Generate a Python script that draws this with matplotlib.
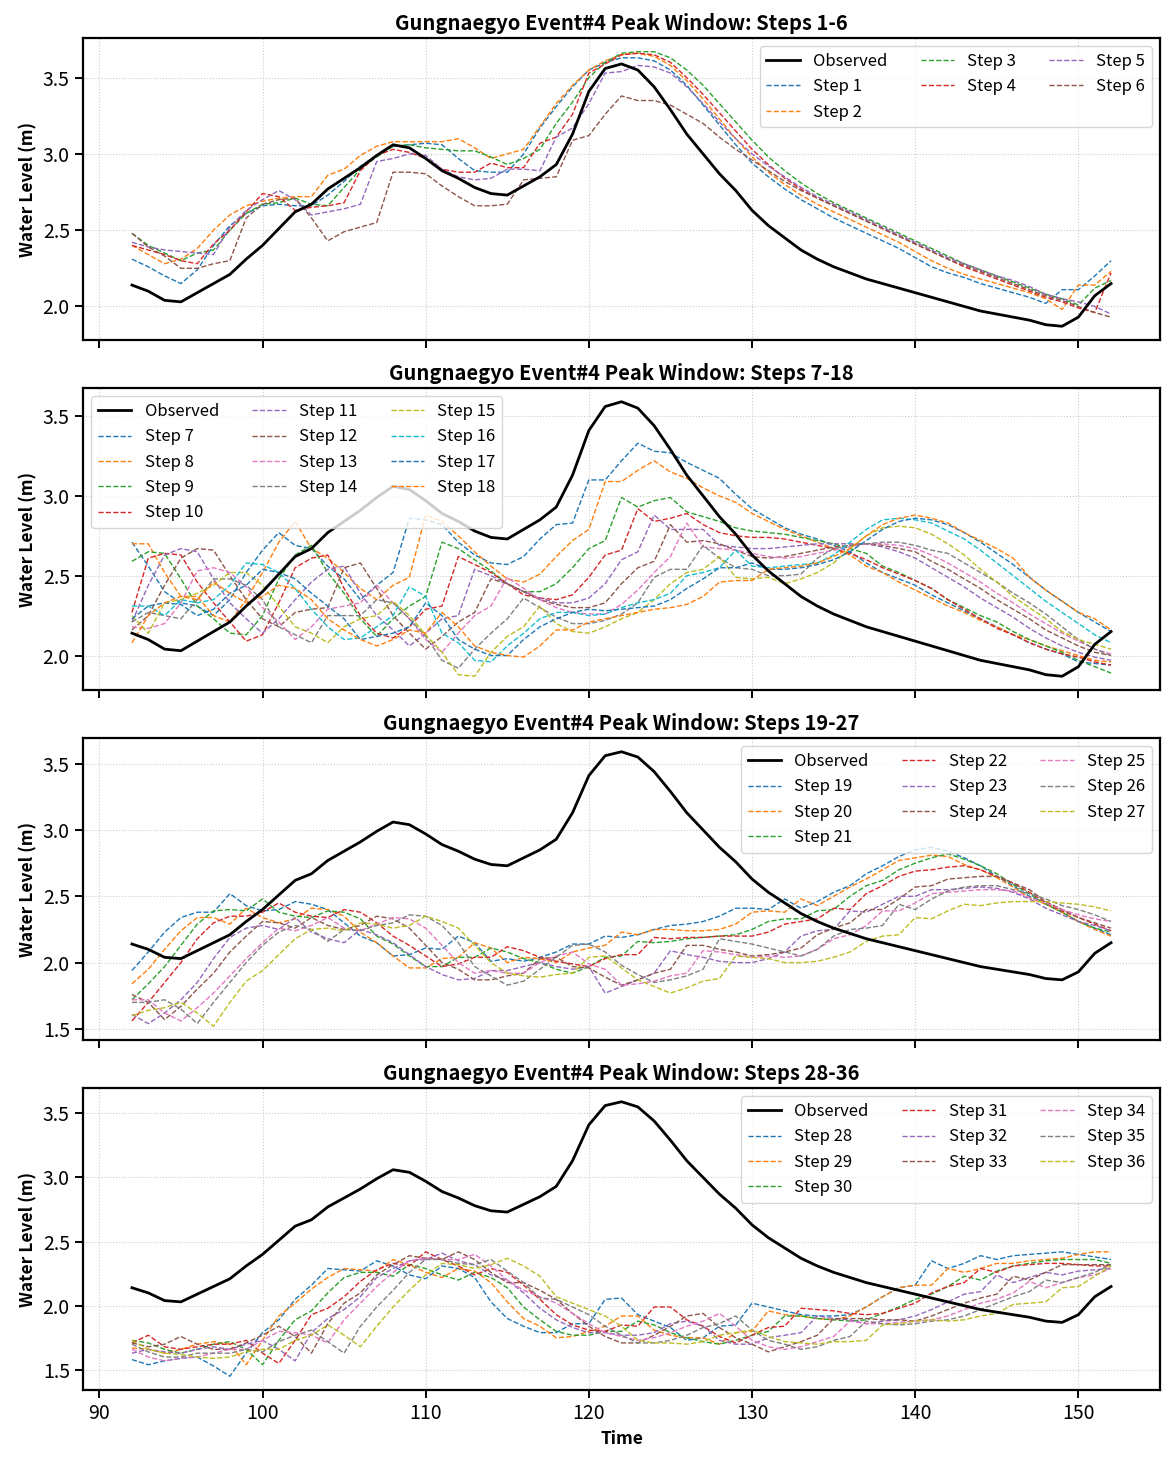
"""Gungnaegyo Event#4 peak window: multi-step forecasts vs observed."""

import matplotlib
matplotlib.use("Agg")
import matplotlib.pyplot as plt
import matplotlib.ticker as mticker

plt.rcParams.update({
    "font.family": ["Noto Sans CJK KR", "DejaVu Sans"],
    "font.size": 12,
    "axes.titlesize": 14.5,
    "axes.titleweight": "bold",
    "axes.labelsize": 12.5,
    "axes.labelweight": "bold",
    "axes.linewidth": 1.6,
    "xtick.labelsize": 14,
    "ytick.labelsize": 14,
    "xtick.major.width": 1.4,
    "ytick.major.width": 1.4,
    "xtick.major.size": 6,
    "ytick.major.size": 6,
    "legend.fontsize": 12,
})

time = list(range(92, 153))

observed = [
    2.14, 2.10, 2.04, 2.03, 2.09, 2.15, 2.21, 2.31, 2.40, 2.51,
    2.62, 2.67, 2.77, 2.84, 2.91, 2.99, 3.06, 3.04, 2.97, 2.89,
    2.84, 2.78, 2.74, 2.73, 2.79, 2.85, 2.93, 3.13, 3.41, 3.56,
    3.59, 3.55, 3.44, 3.29, 3.13, 3.00, 2.87, 2.76, 2.63, 2.53,
    2.45, 2.37, 2.31, 2.26, 2.22, 2.18, 2.15, 2.12, 2.09, 2.06,
    2.03, 2.00, 1.97, 1.95, 1.93, 1.91, 1.88, 1.87, 1.93, 2.07,
    2.15,
]

# panel 1: steps 1-6
step_1 = [
    2.31, 2.26, 2.20, 2.15, 2.24, 2.40, 2.53, 2.61, 2.66, 2.67,
    2.66, 2.66, 2.73, 2.82, 2.92, 2.99, 3.05, 3.06, 3.07, 3.06,
    2.97, 2.89, 2.88, 2.88, 3.00, 3.17, 3.31, 3.44, 3.55, 3.60,
    3.63, 3.63, 3.61, 3.55, 3.45, 3.32, 3.19, 3.06, 2.94, 2.85,
    2.77, 2.70, 2.64, 2.58, 2.53, 2.48, 2.43, 2.38, 2.32, 2.26,
    2.22, 2.19, 2.15, 2.12, 2.09, 2.06, 2.02, 2.11, 2.11, 2.20,
    2.30,
]
step_2 = [
    2.40, 2.34, 2.28, 2.31, 2.38, 2.50, 2.60, 2.66, 2.69, 2.71,
    2.72, 2.72, 2.86, 2.90, 2.99, 3.05, 3.08, 3.08, 3.08, 3.08,
    3.10, 3.04, 2.97, 3.00, 3.03, 3.18, 3.33, 3.45, 3.55, 3.61,
    3.65, 3.66, 3.64, 3.58, 3.48, 3.36, 3.23, 3.10, 2.98, 2.88,
    2.80, 2.73, 2.67, 2.62, 2.57, 2.52, 2.47, 2.42, 2.36, 2.30,
    2.25, 2.21, 2.18, 2.15, 2.12, 2.09, 2.05, 1.98, 2.14, 2.14,
    2.23,
]
step_3 = [
    2.48, 2.40, 2.35, 2.30, 2.35, 2.37, 2.50, 2.61, 2.67, 2.68,
    2.71, 2.67, 2.66, 2.78, 2.90, 2.98, 3.05, 3.06, 3.04, 3.03,
    3.02, 3.02, 2.98, 2.93, 2.97, 3.03, 3.20, 3.34, 3.50, 3.60,
    3.66, 3.67, 3.67, 3.63, 3.55, 3.45, 3.33, 3.21, 3.09, 2.98,
    2.89, 2.81, 2.74, 2.68, 2.63, 2.58, 2.53, 2.48, 2.43, 2.38,
    2.33, 2.28, 2.24, 2.20, 2.16, 2.12, 2.08, 2.05, 2.01, 2.12,
    2.17,
]
step_4 = [
    2.40, 2.37, 2.34, 2.30, 2.28, 2.41, 2.50, 2.62, 2.74, 2.72,
    2.63, 2.65, 2.66, 2.68, 2.89, 2.99, 3.03, 3.01, 2.97, 2.90,
    2.88, 2.88, 2.94, 2.91, 2.91, 3.07, 3.11, 3.26, 3.53, 3.59,
    3.65, 3.66, 3.65, 3.60, 3.50, 3.39, 3.27, 3.15, 3.03, 2.93,
    2.84, 2.77, 2.71, 2.66, 2.61, 2.56, 2.51, 2.46, 2.41, 2.36,
    2.31, 2.26, 2.22, 2.18, 2.14, 2.10, 2.06, 2.03, 1.99, 1.96,
    2.22,
]
step_5 = [
    2.42, 2.39, 2.37, 2.36, 2.35, 2.34, 2.52, 2.63, 2.70, 2.76,
    2.70, 2.60, 2.62, 2.64, 2.67, 2.95, 2.97, 3.00, 2.99, 2.90,
    2.85, 2.83, 2.84, 2.90, 2.90, 2.89, 3.11, 3.17, 3.33, 3.53,
    3.54, 3.58, 3.57, 3.53, 3.44, 3.33, 3.21, 3.10, 3.00, 2.92,
    2.85, 2.78, 2.72, 2.67, 2.62, 2.57, 2.52, 2.47, 2.42, 2.37,
    2.32, 2.28, 2.24, 2.20, 2.17, 2.13, 2.08, 2.05, 2.03, 2.00,
    1.95,
]
step_6 = [
    2.48, 2.39, 2.33, 2.25, 2.25, 2.28, 2.30, 2.58, 2.67, 2.70,
    2.71, 2.58, 2.43, 2.49, 2.52, 2.55, 2.88, 2.88, 2.87, 2.79,
    2.72, 2.66, 2.66, 2.67, 2.83, 2.84, 2.85, 3.09, 3.12, 3.26,
    3.38, 3.35, 3.35, 3.32, 3.26, 3.20, 3.11, 3.03, 2.96, 2.89,
    2.82, 2.76, 2.71, 2.66, 2.61, 2.56, 2.51, 2.46, 2.41, 2.36,
    2.31, 2.27, 2.23, 2.19, 2.15, 2.11, 2.07, 2.04, 2.00, 1.96,
    1.93,
]

# panel 2: steps 7-18
step_7 = [
    2.71, 2.56, 2.40, 2.33, 2.31, 2.25, 2.35, 2.52, 2.66, 2.77,
    2.69, 2.67, 2.56, 2.48, 2.35, 2.44, 2.52, 2.86, 2.85, 2.82,
    2.71, 2.63, 2.58, 2.57, 2.62, 2.73, 2.82, 2.83, 3.10, 3.10,
    3.22, 3.33, 3.28, 3.27, 3.21, 3.16, 3.11, 3.01, 2.92, 2.86,
    2.80, 2.76, 2.73, 2.69, 2.65, 2.58, 2.52, 2.48, 2.44, 2.38,
    2.33, 2.28, 2.23, 2.18, 2.13, 2.08, 2.04, 2.01, 1.96, 1.95,
    1.94,
]
step_8 = [
    2.70, 2.70, 2.52, 2.37, 2.37, 2.25, 2.21, 2.35, 2.52, 2.71,
    2.84, 2.67, 2.61, 2.52, 2.42, 2.35, 2.44, 2.49, 2.88, 2.84,
    2.75, 2.65, 2.56, 2.48, 2.46, 2.51, 2.62, 2.72, 2.79, 3.09,
    3.09, 3.16, 3.22, 3.15, 3.11, 3.05, 3.00, 2.96, 2.89, 2.84,
    2.79, 2.75, 2.71, 2.67, 2.63, 2.56, 2.52, 2.46, 2.41, 2.36,
    2.31, 2.27, 2.22, 2.18, 2.13, 2.10, 2.06, 2.03, 2.00, 1.97,
    1.96,
]
step_9 = [
    2.59, 2.65, 2.64, 2.48, 2.31, 2.23, 2.14, 2.13, 2.25, 2.48,
    2.63, 2.69, 2.52, 2.39, 2.23, 2.12, 2.23, 2.31, 2.37, 2.71,
    2.67, 2.60, 2.53, 2.45, 2.40, 2.40, 2.45, 2.55, 2.67, 2.72,
    2.99, 2.93, 2.97, 2.99, 2.90, 2.87, 2.84, 2.80, 2.78, 2.77,
    2.76, 2.74, 2.72, 2.70, 2.67, 2.64, 2.56, 2.52, 2.47, 2.42,
    2.35, 2.30, 2.25, 2.21, 2.15, 2.10, 2.06, 2.02, 1.97, 1.93,
    1.89,
]
step_10 = [
    2.27, 2.61, 2.64, 2.63, 2.46, 2.33, 2.21, 2.09, 2.13, 2.33,
    2.55, 2.61, 2.63, 2.42, 2.25, 2.14, 2.11, 2.18, 2.29, 2.31,
    2.62, 2.57, 2.52, 2.45, 2.38, 2.36, 2.35, 2.38, 2.49, 2.63,
    2.66, 2.92, 2.84, 2.86, 2.89, 2.82, 2.77, 2.75, 2.74, 2.74,
    2.73, 2.71, 2.69, 2.67, 2.64, 2.60, 2.55, 2.51, 2.47, 2.42,
    2.35, 2.29, 2.23, 2.17, 2.13, 2.08, 2.04, 2.01, 1.99, 1.96,
    1.94,
]
step_11 = [
    2.21, 2.44, 2.63, 2.67, 2.65, 2.48, 2.33, 2.23, 2.14, 2.23,
    2.35, 2.46, 2.54, 2.56, 2.39, 2.25, 2.16, 2.06, 2.14, 2.23,
    2.25, 2.54, 2.50, 2.45, 2.40, 2.36, 2.33, 2.33, 2.36, 2.45,
    2.60, 2.65, 2.88, 2.79, 2.79, 2.79, 2.69, 2.68, 2.67, 2.67,
    2.68, 2.69, 2.70, 2.70, 2.70, 2.70, 2.68, 2.65, 2.61, 2.55,
    2.49, 2.43, 2.36, 2.30, 2.24, 2.17, 2.11, 2.06, 2.02, 1.99,
    1.97,
]
step_12 = [
    2.16, 2.25, 2.44, 2.61, 2.67, 2.66, 2.50, 2.35, 2.23, 2.18,
    2.27, 2.29, 2.30, 2.55, 2.58, 2.42, 2.25, 2.14, 2.04, 2.12,
    2.21, 2.27, 2.48, 2.45, 2.40, 2.35, 2.32, 2.30, 2.30, 2.33,
    2.45, 2.55, 2.59, 2.82, 2.71, 2.72, 2.70, 2.66, 2.62, 2.61,
    2.62, 2.64, 2.66, 2.68, 2.69, 2.70, 2.69, 2.67, 2.65, 2.59,
    2.54, 2.48, 2.42, 2.35, 2.29, 2.23, 2.16, 2.11, 2.06, 2.02,
    2.00,
]
step_13 = [
    2.18, 2.17, 2.20, 2.33, 2.53, 2.55, 2.52, 2.43, 2.30, 2.21,
    2.10, 2.18, 2.29, 2.31, 2.33, 2.44, 2.33, 2.23, 2.10, 2.02,
    2.14, 2.25, 2.31, 2.49, 2.42, 2.35, 2.30, 2.27, 2.26, 2.26,
    2.32, 2.41, 2.52, 2.62, 2.83, 2.68, 2.67, 2.66, 2.64, 2.62,
    2.61, 2.62, 2.64, 2.66, 2.68, 2.70, 2.70, 2.69, 2.67, 2.63,
    2.58, 2.52, 2.46, 2.39, 2.33, 2.26, 2.20, 2.14, 2.09, 2.04,
    2.01,
]
step_14 = [
    2.21, 2.27, 2.25, 2.23, 2.35, 2.48, 2.48, 2.44, 2.35, 2.18,
    2.13, 2.08, 2.25, 2.25, 2.25, 2.35, 2.33, 2.23, 2.12, 1.97,
    1.92, 2.04, 2.14, 2.23, 2.36, 2.30, 2.24, 2.20, 2.20, 2.22,
    2.26, 2.33, 2.49, 2.54, 2.54, 2.69, 2.61, 2.55, 2.54, 2.50,
    2.50, 2.51, 2.61, 2.67, 2.69, 2.70, 2.71, 2.71, 2.69, 2.66,
    2.64, 2.58, 2.52, 2.46, 2.39, 2.33, 2.26, 2.18, 2.10, 2.04,
    2.00,
]
step_15 = [
    2.25, 2.14, 2.33, 2.35, 2.39, 2.44, 2.52, 2.52, 2.44, 2.31,
    2.18, 2.14, 2.08, 2.18, 2.23, 2.25, 2.34, 2.25, 2.13, 2.02,
    1.88, 1.87, 2.02, 2.12, 2.18, 2.31, 2.20, 2.15, 2.14, 2.18,
    2.23, 2.27, 2.35, 2.45, 2.52, 2.54, 2.62, 2.49, 2.48, 2.49,
    2.45, 2.48, 2.52, 2.58, 2.67, 2.75, 2.80, 2.81, 2.80, 2.76,
    2.70, 2.63, 2.54, 2.46, 2.37, 2.30, 2.23, 2.15, 2.10, 2.07,
    2.04,
]
step_16 = [
    2.31, 2.31, 2.25, 2.35, 2.33, 2.35, 2.44, 2.58, 2.57, 2.52,
    2.42, 2.29, 2.18, 2.10, 2.11, 2.18, 2.25, 2.43, 2.37, 2.14,
    2.08, 1.97, 1.96, 2.06, 2.14, 2.23, 2.27, 2.27, 2.25, 2.26,
    2.30, 2.33, 2.35, 2.39, 2.50, 2.52, 2.55, 2.66, 2.56, 2.55,
    2.56, 2.57, 2.58, 2.63, 2.71, 2.79, 2.85, 2.86, 2.85, 2.83,
    2.78, 2.73, 2.66, 2.58, 2.50, 2.42, 2.34, 2.27, 2.20, 2.13,
    2.08,
]
step_17 = [
    2.23, 2.31, 2.33, 2.32, 2.25, 2.29, 2.39, 2.44, 2.54, 2.52,
    2.48, 2.39, 2.31, 2.23, 2.10, 2.12, 2.14, 2.18, 2.33, 2.25,
    2.10, 2.04, 2.00, 2.00, 2.10, 2.18, 2.23, 2.27, 2.29, 2.28,
    2.29, 2.30, 2.31, 2.35, 2.42, 2.48, 2.55, 2.55, 2.58, 2.54,
    2.54, 2.55, 2.57, 2.60, 2.65, 2.72, 2.79, 2.84, 2.86, 2.85,
    2.82, 2.77, 2.71, 2.64, 2.57, 2.49, 2.41, 2.34, 2.27, 2.21,
    2.15,
]
step_18 = [
    2.08, 2.25, 2.33, 2.37, 2.35, 2.46, 2.39, 2.33, 2.37, 2.44,
    2.42, 2.35, 2.23, 2.16, 2.10, 2.06, 2.10, 2.16, 2.14, 2.27,
    2.18, 2.06, 2.02, 2.00, 1.99, 2.06, 2.16, 2.16, 2.21, 2.23,
    2.25, 2.27, 2.29, 2.30, 2.32, 2.37, 2.46, 2.47, 2.47, 2.54,
    2.55, 2.56, 2.58, 2.62, 2.67, 2.75, 2.82, 2.86, 2.88, 2.86,
    2.83, 2.77, 2.72, 2.67, 2.61, 2.49, 2.41, 2.34, 2.27, 2.23,
    2.16,
]

# panel 3: steps 19-27
step_19 = [
    1.94, 2.08, 2.23, 2.34, 2.38, 2.38, 2.52, 2.43, 2.39, 2.40,
    2.46, 2.44, 2.40, 2.30, 2.20, 2.15, 2.05, 2.06, 2.11, 2.10,
    2.20, 2.15, 2.01, 2.03, 2.01, 2.04, 2.08, 2.14, 2.14, 2.20,
    2.19, 2.21, 2.25, 2.28, 2.29, 2.31, 2.35, 2.41, 2.41, 2.40,
    2.48, 2.41, 2.46, 2.53, 2.58, 2.67, 2.73, 2.80, 2.85, 2.87,
    2.84, 2.79, 2.73, 2.65, 2.58, 2.50, 2.45, 2.38, 2.31, 2.26,
    2.21,
]
step_20 = [
    1.84, 1.95, 2.10, 2.24, 2.34, 2.34, 2.29, 2.41, 2.34, 2.30,
    2.33, 2.41, 2.40, 2.35, 2.23, 2.15, 2.05, 1.96, 1.96, 2.03,
    2.04, 2.15, 2.11, 2.00, 2.04, 2.03, 2.00, 2.08, 2.11, 2.13,
    2.23, 2.21, 2.25, 2.25, 2.24, 2.24, 2.25, 2.29, 2.38, 2.39,
    2.38, 2.48, 2.43, 2.50, 2.57, 2.63, 2.70, 2.77, 2.79, 2.81,
    2.80, 2.74, 2.70, 2.64, 2.57, 2.49, 2.44, 2.38, 2.31, 2.25,
    2.20,
]
step_21 = [
    1.72, 1.84, 1.97, 2.13, 2.29, 2.39, 2.40, 2.39, 2.48, 2.38,
    2.35, 2.34, 2.39, 2.38, 2.33, 2.20, 2.14, 2.05, 1.97, 1.97,
    2.04, 2.04, 2.11, 2.08, 2.03, 2.00, 1.95, 1.92, 1.97, 2.04,
    2.05, 2.16, 2.15, 2.16, 2.18, 2.19, 2.20, 2.21, 2.25, 2.31,
    2.33, 2.33, 2.39, 2.40, 2.50, 2.58, 2.62, 2.70, 2.75, 2.79,
    2.82, 2.78, 2.73, 2.67, 2.59, 2.52, 2.44, 2.38, 2.31, 2.26,
    2.23,
]
step_22 = [
    1.56, 1.70, 1.85, 2.00, 2.18, 2.30, 2.35, 2.35, 2.38, 2.45,
    2.38, 2.35, 2.34, 2.40, 2.38, 2.30, 2.20, 2.13, 2.05, 1.97,
    1.99, 2.04, 2.04, 2.12, 2.09, 2.04, 2.01, 1.99, 1.97, 2.03,
    2.06, 2.06, 2.19, 2.18, 2.19, 2.19, 2.20, 2.20, 2.20, 2.23,
    2.29, 2.31, 2.33, 2.41, 2.40, 2.52, 2.58, 2.65, 2.69, 2.70,
    2.72, 2.73, 2.70, 2.65, 2.60, 2.53, 2.45, 2.39, 2.34, 2.29,
    2.24,
]
step_23 = [
    1.61, 1.54, 1.62, 1.72, 1.85, 2.03, 2.19, 2.26, 2.28, 2.25,
    2.34, 2.23, 2.18, 2.15, 2.25, 2.21, 2.15, 2.06, 1.97, 1.91,
    1.87, 1.88, 1.94, 1.94, 1.97, 2.00, 1.97, 1.95, 1.97, 1.77,
    1.82, 1.87, 1.92, 2.09, 2.06, 2.04, 2.01, 2.00, 2.00, 2.03,
    2.08, 2.20, 2.24, 2.25, 2.39, 2.38, 2.44, 2.50, 2.50, 2.55,
    2.55, 2.56, 2.57, 2.56, 2.53, 2.48, 2.41, 2.36, 2.31, 2.28,
    2.24,
]
step_24 = [
    1.76, 1.70, 1.57, 1.67, 1.80, 1.92, 2.08, 2.20, 2.31, 2.30,
    2.26, 2.34, 2.28, 2.25, 2.28, 2.35, 2.33, 2.26, 2.13, 2.00,
    1.95, 1.87, 1.87, 1.90, 1.92, 2.03, 2.04, 1.97, 1.96, 1.89,
    1.83, 1.87, 1.92, 1.95, 2.13, 2.13, 2.10, 2.08, 2.05, 2.06,
    2.08, 2.11, 2.21, 2.26, 2.30, 2.40, 2.40, 2.48, 2.57, 2.58,
    2.63, 2.64, 2.65, 2.65, 2.60, 2.55, 2.46, 2.40, 2.34, 2.30,
    2.26,
]
step_25 = [
    1.72, 1.72, 1.62, 1.56, 1.66, 1.77, 1.90, 2.03, 2.15, 2.26,
    2.24, 2.28, 2.34, 2.26, 2.24, 2.29, 2.34, 2.33, 2.26, 2.13,
    2.00, 1.92, 1.94, 1.92, 1.92, 2.00, 2.05, 2.08, 1.99, 1.95,
    1.83, 1.84, 1.86, 1.90, 1.92, 2.09, 2.08, 2.06, 2.04, 2.05,
    2.04, 2.05, 2.10, 2.18, 2.21, 2.28, 2.39, 2.39, 2.45, 2.52,
    2.53, 2.54, 2.55, 2.55, 2.54, 2.49, 2.45, 2.40, 2.36, 2.33,
    2.31,
]
step_26 = [
    1.70, 1.70, 1.72, 1.65, 1.54, 1.70, 1.85, 2.00, 2.13, 2.23,
    2.28, 2.25, 2.16, 2.25, 2.24, 2.28, 2.30, 2.36, 2.35, 2.28,
    2.15, 1.97, 1.90, 1.83, 1.86, 1.95, 2.04, 2.13, 2.14, 2.08,
    1.98, 1.91, 1.85, 1.87, 1.90, 1.95, 2.18, 2.16, 2.14, 2.11,
    2.08, 2.05, 2.10, 2.20, 2.25, 2.26, 2.28, 2.44, 2.40, 2.48,
    2.54, 2.57, 2.58, 2.58, 2.55, 2.52, 2.48, 2.43, 2.40, 2.36,
    2.31,
]
step_27 = [
    1.60, 1.64, 1.66, 1.70, 1.62, 1.52, 1.70, 1.86, 1.94, 2.06,
    2.18, 2.25, 2.26, 2.24, 2.30, 2.29, 2.26, 2.28, 2.35, 2.31,
    2.26, 2.13, 2.00, 1.92, 1.90, 1.89, 1.91, 1.92, 2.04, 2.05,
    1.96, 1.87, 1.82, 1.77, 1.81, 1.86, 1.88, 2.05, 2.04, 2.03,
    2.00, 2.00, 2.01, 2.04, 2.08, 2.16, 2.20, 2.21, 2.34, 2.33,
    2.39, 2.44, 2.43, 2.45, 2.46, 2.46, 2.46, 2.45, 2.44, 2.42,
    2.39,
]

# panel 4: steps 28-36
step_28 = [
    1.58, 1.54, 1.57, 1.59, 1.60, 1.53, 1.45, 1.63, 1.79, 1.89,
    2.05, 2.16, 2.29, 2.28, 2.27, 2.35, 2.31, 2.24, 2.21, 2.31,
    2.29, 2.22, 2.03, 1.90, 1.84, 1.79, 1.79, 1.86, 1.86, 2.05,
    2.06, 1.93, 1.88, 1.83, 1.73, 1.75, 1.84, 1.85, 2.02, 1.99,
    1.96, 1.93, 1.92, 1.92, 1.93, 1.99, 2.07, 2.14, 2.16, 2.35,
    2.29, 2.33, 2.39, 2.36, 2.39, 2.40, 2.41, 2.42, 2.40, 2.38,
    2.36,
]
step_29 = [
    1.67, 1.66, 1.63, 1.66, 1.70, 1.72, 1.70, 1.54, 1.73, 1.92,
    2.02, 2.13, 2.22, 2.29, 2.28, 2.27, 2.36, 2.32, 2.26, 2.22,
    2.29, 2.27, 2.18, 2.03, 1.90, 1.84, 1.75, 1.76, 1.80, 1.84,
    1.92, 1.92, 1.81, 1.77, 1.75, 1.75, 1.70, 1.79, 1.80, 1.96,
    1.93, 1.92, 1.90, 1.89, 1.92, 1.99, 2.07, 2.14, 2.16, 2.16,
    2.29, 2.26, 2.29, 2.33, 2.33, 2.35, 2.36, 2.37, 2.40, 2.42,
    2.42,
]
step_30 = [
    1.73, 1.71, 1.66, 1.63, 1.66, 1.70, 1.72, 1.66, 1.54, 1.73,
    1.89, 1.96, 2.10, 2.22, 2.26, 2.26, 2.23, 2.32, 2.29, 2.24,
    2.20, 2.26, 2.22, 2.14, 1.99, 1.89, 1.80, 1.77, 1.77, 1.80,
    1.80, 1.88, 1.85, 1.79, 1.75, 1.72, 1.70, 1.73, 1.77, 1.80,
    1.92, 1.92, 1.90, 1.89, 1.88, 1.89, 1.94, 1.99, 2.05, 2.09,
    2.15, 2.23, 2.20, 2.27, 2.31, 2.33, 2.35, 2.36, 2.36, 2.36,
    2.33,
]
step_31 = [
    1.71, 1.77, 1.68, 1.66, 1.68, 1.70, 1.70, 1.73, 1.63, 1.55,
    1.73, 1.93, 1.98, 2.07, 2.19, 2.28, 2.33, 2.31, 2.42, 2.36,
    2.31, 2.24, 2.29, 2.26, 2.16, 2.05, 1.93, 1.85, 1.81, 1.80,
    1.85, 1.84, 1.99, 1.99, 1.89, 1.84, 1.76, 1.71, 1.77, 1.83,
    1.84, 1.98, 1.97, 1.96, 1.94, 1.93, 1.94, 1.98, 2.02, 2.10,
    2.15, 2.18, 2.29, 2.26, 2.31, 2.32, 2.33, 2.33, 2.32, 2.31,
    2.31,
]
step_32 = [
    1.63, 1.66, 1.64, 1.63, 1.66, 1.68, 1.66, 1.70, 1.73, 1.66,
    1.57, 1.79, 1.90, 1.97, 2.07, 2.22, 2.29, 2.35, 2.36, 2.41,
    2.35, 2.32, 2.24, 2.20, 2.10, 1.98, 1.89, 1.83, 1.79, 1.79,
    1.77, 1.77, 1.79, 1.86, 1.88, 1.84, 1.73, 1.70, 1.70, 1.75,
    1.77, 1.79, 1.92, 1.90, 1.89, 1.86, 1.88, 1.89, 1.92, 1.97,
    2.03, 2.09, 2.11, 2.24, 2.18, 2.22, 2.26, 2.24, 2.27, 2.28,
    2.29,
]
step_33 = [
    1.71, 1.68, 1.70, 1.76, 1.70, 1.66, 1.66, 1.71, 1.77, 1.84,
    1.76, 1.63, 1.86, 2.02, 2.10, 2.24, 2.32, 2.39, 2.37, 2.36,
    2.42, 2.36, 2.26, 2.18, 2.18, 2.12, 2.05, 1.94, 1.84, 1.76,
    1.71, 1.71, 1.77, 1.84, 1.92, 1.94, 1.83, 1.75, 1.70, 1.64,
    1.68, 1.72, 1.77, 1.90, 1.90, 1.90, 1.89, 1.89, 1.88, 1.92,
    1.97, 2.02, 2.06, 2.09, 2.23, 2.20, 2.26, 2.32, 2.32, 2.32,
    2.32,
]
step_34 = [
    1.66, 1.60, 1.57, 1.59, 1.60, 1.63, 1.66, 1.66, 1.73, 1.80,
    1.79, 1.77, 1.71, 1.89, 2.02, 2.15, 2.26, 2.35, 2.37, 2.36,
    2.36, 2.40, 2.31, 2.20, 2.12, 2.07, 2.02, 1.94, 1.86, 1.79,
    1.76, 1.73, 1.75, 1.79, 1.84, 1.88, 1.94, 1.84, 1.73, 1.68,
    1.66, 1.68, 1.72, 1.76, 1.88, 1.86, 1.86, 1.87, 1.88, 1.89,
    1.92, 1.97, 2.02, 2.05, 2.10, 2.19, 2.14, 2.18, 2.22, 2.24,
    2.29,
]
step_35 = [
    1.70, 1.64, 1.60, 1.60, 1.63, 1.63, 1.63, 1.66, 1.64, 1.72,
    1.77, 1.81, 1.72, 1.63, 1.84, 1.99, 2.12, 2.26, 2.36, 2.36,
    2.33, 2.32, 2.36, 2.27, 2.18, 2.06, 2.05, 1.99, 1.93, 1.84,
    1.77, 1.71, 1.71, 1.73, 1.77, 1.83, 1.86, 1.92, 1.81, 1.73,
    1.70, 1.66, 1.68, 1.73, 1.76, 1.88, 1.86, 1.85, 1.86, 1.88,
    1.89, 1.92, 1.97, 2.02, 2.07, 2.11, 2.20, 2.18, 2.22, 2.26,
    2.32,
]
step_36 = [
    1.73, 1.66, 1.63, 1.62, 1.60, 1.59, 1.60, 1.64, 1.66, 1.66,
    1.73, 1.77, 1.85, 1.77, 1.68, 1.84, 1.99, 2.12, 2.24, 2.33,
    2.32, 2.29, 2.32, 2.37, 2.31, 2.23, 2.07, 2.02, 1.97, 1.92,
    1.84, 1.73, 1.71, 1.71, 1.70, 1.72, 1.77, 1.79, 1.81, 1.76,
    1.72, 1.71, 1.70, 1.72, 1.72, 1.73, 1.85, 1.86, 1.88, 1.89,
    1.88, 1.89, 1.92, 1.94, 2.01, 2.02, 2.03, 2.14, 2.15, 2.23,
    2.31,
]

panels = [
    ("Steps 1-6", [1, 2, 3, 4, 5, 6],
     [step_1, step_2, step_3, step_4, step_5, step_6], "upper right"),
    ("Steps 7-18", list(range(7, 19)),
     [step_7, step_8, step_9, step_10, step_11, step_12, step_13, step_14,
      step_15, step_16, step_17, step_18], "upper left"),
    ("Steps 19-27", list(range(19, 28)),
     [step_19, step_20, step_21, step_22, step_23, step_24, step_25, step_26,
      step_27], "upper right"),
    ("Steps 28-36", list(range(28, 37)),
     [step_28, step_29, step_30, step_31, step_32, step_33, step_34, step_35,
      step_36], "upper right"),
]

colors = plt.rcParams["axes.prop_cycle"].by_key()["color"]

fig, axes = plt.subplots(4, 1, figsize=(11.67, 14.6), dpi=100, sharex=True)
fig.subplots_adjust(left=83 / 1167, right=1160 / 1167,
                    top=1 - 38 / 1460, bottom=1 - 1390 / 1460, hspace=0.159)

for ax, (label, steps, series, loc) in zip(axes, panels):
    ax.plot(time, observed, color="black", linewidth=2.0, label="Observed", zorder=5)
    for i, (k, values) in enumerate(zip(steps, series)):
        ax.plot(time, values, color=colors[i % 10], linestyle="--",
                linewidth=1.0, label=f"Step {k}")
    ax.set_title(f"Gungnaegyo Event#4 Peak Window: {label}", pad=6)
    ax.set_ylabel("Water Level (m)")
    ax.yaxis.set_major_locator(mticker.MultipleLocator(0.5))
    ax.grid(True, linestyle=":", color="#cccccc", linewidth=0.8)
    ax.legend(loc=loc, ncol=3, framealpha=0.8)

axes[-1].set_xlabel("Time")
axes[-1].set_xticks([90, 100, 110, 120, 130, 140, 150])

fig.savefig("out.png", dpi=100)
plt.close(fig)
